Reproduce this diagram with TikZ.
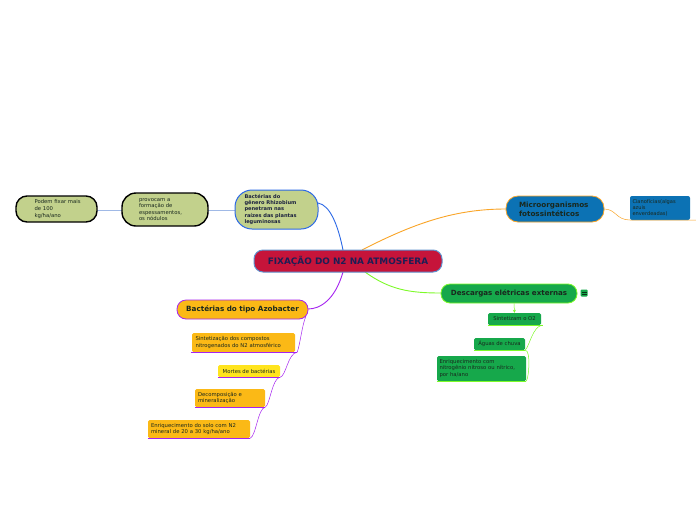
\documentclass[tikz,border=0pt]{standalone}
\usepackage{fontspec}
\setmainfont{DejaVu Sans}
\usetikzlibrary{arrows.meta}
\definecolor{crim}{RGB}{198,20,58}
\definecolor{cborder}{RGB}{95,145,205}
\definecolor{navy}{RGB}{30,30,85}
\definecolor{khaki}{RGB}{194,209,140}
\definecolor{bblue}{RGB}{45,105,230}
\definecolor{lblue}{RGB}{160,185,230}
\definecolor{mblue}{RGB}{12,114,180}
\definecolor{orng}{RGB}{250,165,40}
\definecolor{gfill}{RGB}{22,168,75}
\definecolor{lime}{RGB}{125,250,40}
\definecolor{yor}{RGB}{251,185,22}
\definecolor{ylw}{RGB}{255,228,30}
\definecolor{purp}{RGB}{165,35,240}
\definecolor{dtxt}{RGB}{25,40,30}
\tikzset{
  boxbase/.style={inner sep=0pt, align=left, text=dtxt},
  central/.style={boxbase, rounded corners=9pt, fill=crim, draw=cborder, line width=1pt, align=center,
     text=navy, font=\fontsize{8.9}{10}\selectfont\bfseries},
  khakibox/.style={boxbase, fill=khaki, font=\fontsize{5.3}{6.6}\selectfont},
  microbox/.style={boxbase, rounded corners=12pt, fill=mblue, draw=orng, line width=0.8pt,
     font=\fontsize{7.2}{9}\selectfont\bfseries, text=dtxt},
  greenbig/.style={boxbase, rounded corners=9pt, fill=gfill, draw=lime, line width=0.8pt, align=center,
     font=\fontsize{7.1}{9}\selectfont\bfseries},
  gsmall/.style={boxbase, rounded corners=1.5pt, fill=gfill, font=\fontsize{5.3}{6.6}\selectfont},
  azo/.style={boxbase, rounded corners=9pt, fill=yor, draw=purp, line width=0.8pt, align=center,
     font=\fontsize{7.2}{9}\selectfont\bfseries},
  ysmall/.style={boxbase, rounded corners=1.5pt, fill=yor, font=\fontsize{5.3}{6.6}\selectfont},
  conn/.style={line width=0.9pt},
  thin/.style={line width=0.5pt},
}
\begin{document}
\begin{tikzpicture}[x=1pt,y=-1pt]
\useasboundingbox (0,0) rectangle (696,520);
\fill[white] (0,0) rectangle (696,520);

% connectors from center
\draw[conn, bblue] (343,250) .. controls (338,225) and (330,205) .. (318,203);
\draw[conn, orng] (362,250) .. controls (420,220) and (460,209) .. (506,209);
\draw[conn, lime] (365,272) .. controls (390,290) and (410,293) .. (441,293);
\draw[conn, purp] (343,272) .. controls (335,300) and (320,309) .. (308,309);
\draw[conn, lblue] (235,210) -- (208,210);
\draw[conn, lblue] (122,210) -- (97,210);

% central
\node[central, minimum width=188pt, minimum height=22pt] (c) at (348,261) {FIXAÇÃO DO N2 NA ATMOSFERA};

% left branch
\node[khakibox, rounded corners=17pt, draw=bblue, line width=1pt, minimum width=83pt, minimum height=39pt,
  font=\fontsize{5.1}{6.2}\selectfont\bfseries, text=navy!60!dtxt, text width=64pt] (r) at (276.5,209.5)
  {Bactérias do\\gênero Rhizobium\\penetram nas\\raízes das plantas\\leguminosas};
\node[khakibox, rounded corners=14pt, draw=black, line width=1.4pt, minimum width=86pt, minimum height=33pt,
  text width=62pt] (p) at (165,209.5)
  {\hspace*{5pt}provocam a\\\hspace*{5pt}formação de\\\hspace*{5pt}espessamentos,\\\hspace*{5pt}os nódulos};
\node[khakibox, rounded corners=11pt, draw=black, line width=1.4pt, minimum width=81pt, minimum height=26pt,
  text width=56pt] (q) at (56.5,209)
  {\hspace*{6pt}Podem fixar mais\\\hspace*{6pt}de 100\\\hspace*{6pt}kg/ha/ano};

% right top branch
\node[microbox, minimum width=98pt, minimum height=26pt, text width=72pt] (m) at (555,209)
  {Microorganismos\\fotossintéticos};
\node[boxbase, rounded corners=2pt, fill=mblue, minimum width=60pt, minimum height=24pt, text width=55pt,
  font=\fontsize{5.1}{6.2}\selectfont] (k) at (660,208)
  {Cianofícias(algas\\azuis\\enverdeadas)};
\draw[thin, orng] (604,209) .. controls (616,209) and (616,220) .. (630,220) -- (696,220);

% descargas branch
\node[greenbig, minimum width=136pt, minimum height=19pt] (d) at (509,293.5) {Descargas elétricas externas};
\node[fill=gfill, rounded corners=1pt, minimum size=7pt, inner sep=0pt] (ic) at (584,293) {};
\draw[line width=0.6pt, black!70!gfill] (581.5,292) -- (586.5,292) (582,294.5) -- (586.5,294.5);
\node[gsmall, minimum width=53pt, minimum height=12pt, align=center] (s) at (514.5,319) {Sintetizam o O2};
\node[gsmall, minimum width=51pt, minimum height=12pt, align=center] (a) at (499.5,344) {Águas de chuva};
\node[gsmall, minimum width=89pt, minimum height=25pt, text width=84pt] (e) at (481.5,368.5)
  {Enriquecimento com\\nitrogênio nitroso ou nítrico,\\por ha/ano};
\draw[thin, lime, -{Stealth[length=3pt,width=3pt]}] (d.south) ++(5,0) -- (s.north);
\draw[thin, lime] (s.south west) -- (s.south east) -- ++(2,0);
\draw[thin, lime] (a.south west) -- (a.south east);
\draw[thin, lime] (e.south west) -- (e.south east);
\draw[thin, lime] (542,325) .. controls (532,328) and (530,345) .. (a.south east);
\draw[thin, lime] (a.south east) .. controls (531,350) and (529,378) .. (e.south east);

% azobacter branch
\node[azo, minimum width=131pt, minimum height=19pt] (z) at (242.5,309.5) {Bactérias do tipo Azobacter};
\node[ysmall, minimum width=103pt, minimum height=19pt, text width=96pt] (z1) at (243.5,342.5)
  {Sintetização dos compostos\\nitrogenados do N2 atmosférico};
\node[boxbase, rounded corners=1.5pt, fill=ylw, font=\fontsize{5.3}{6.6}\selectfont, minimum width=62pt,
  minimum height=12pt, align=center] (z2) at (249,371) {Mortes de bactérias};
\node[ysmall, minimum width=70pt, minimum height=18pt, text width=64pt] (z3) at (230,398)
  {Decomposição e\\mineralização};
\node[ysmall, minimum width=102pt, minimum height=18pt, text width=96pt] (z4) at (199,429)
  {Enriquecimento do solo com N2\\mineral de 20 a 30 kg/ha/ano};
\draw[thin, purp] ([xshift=-1pt]z1.south west) -- ([xshift=2pt]z1.south east);
\draw[thin, purp] (z2.south west) -- (z2.south east);
\draw[thin, purp] (z3.south west) -- (z3.south east);
\draw[thin, purp] (z4.south west) -- (z4.south east);
\draw[thin, purp] (306,316) .. controls (302,325) and (300,345) .. ([xshift=2pt]z1.south east);
\draw[thin, purp] ([xshift=2pt]z1.south east) .. controls (288,353) and (286,376) .. (z2.south east);
\draw[thin, purp] (z2.south east) .. controls (272,378) and (270,405) .. (z3.south east);
\draw[thin, purp] (z3.south east) .. controls (258,408) and (256,436) .. (z4.south east);
\end{tikzpicture}
\end{document}
